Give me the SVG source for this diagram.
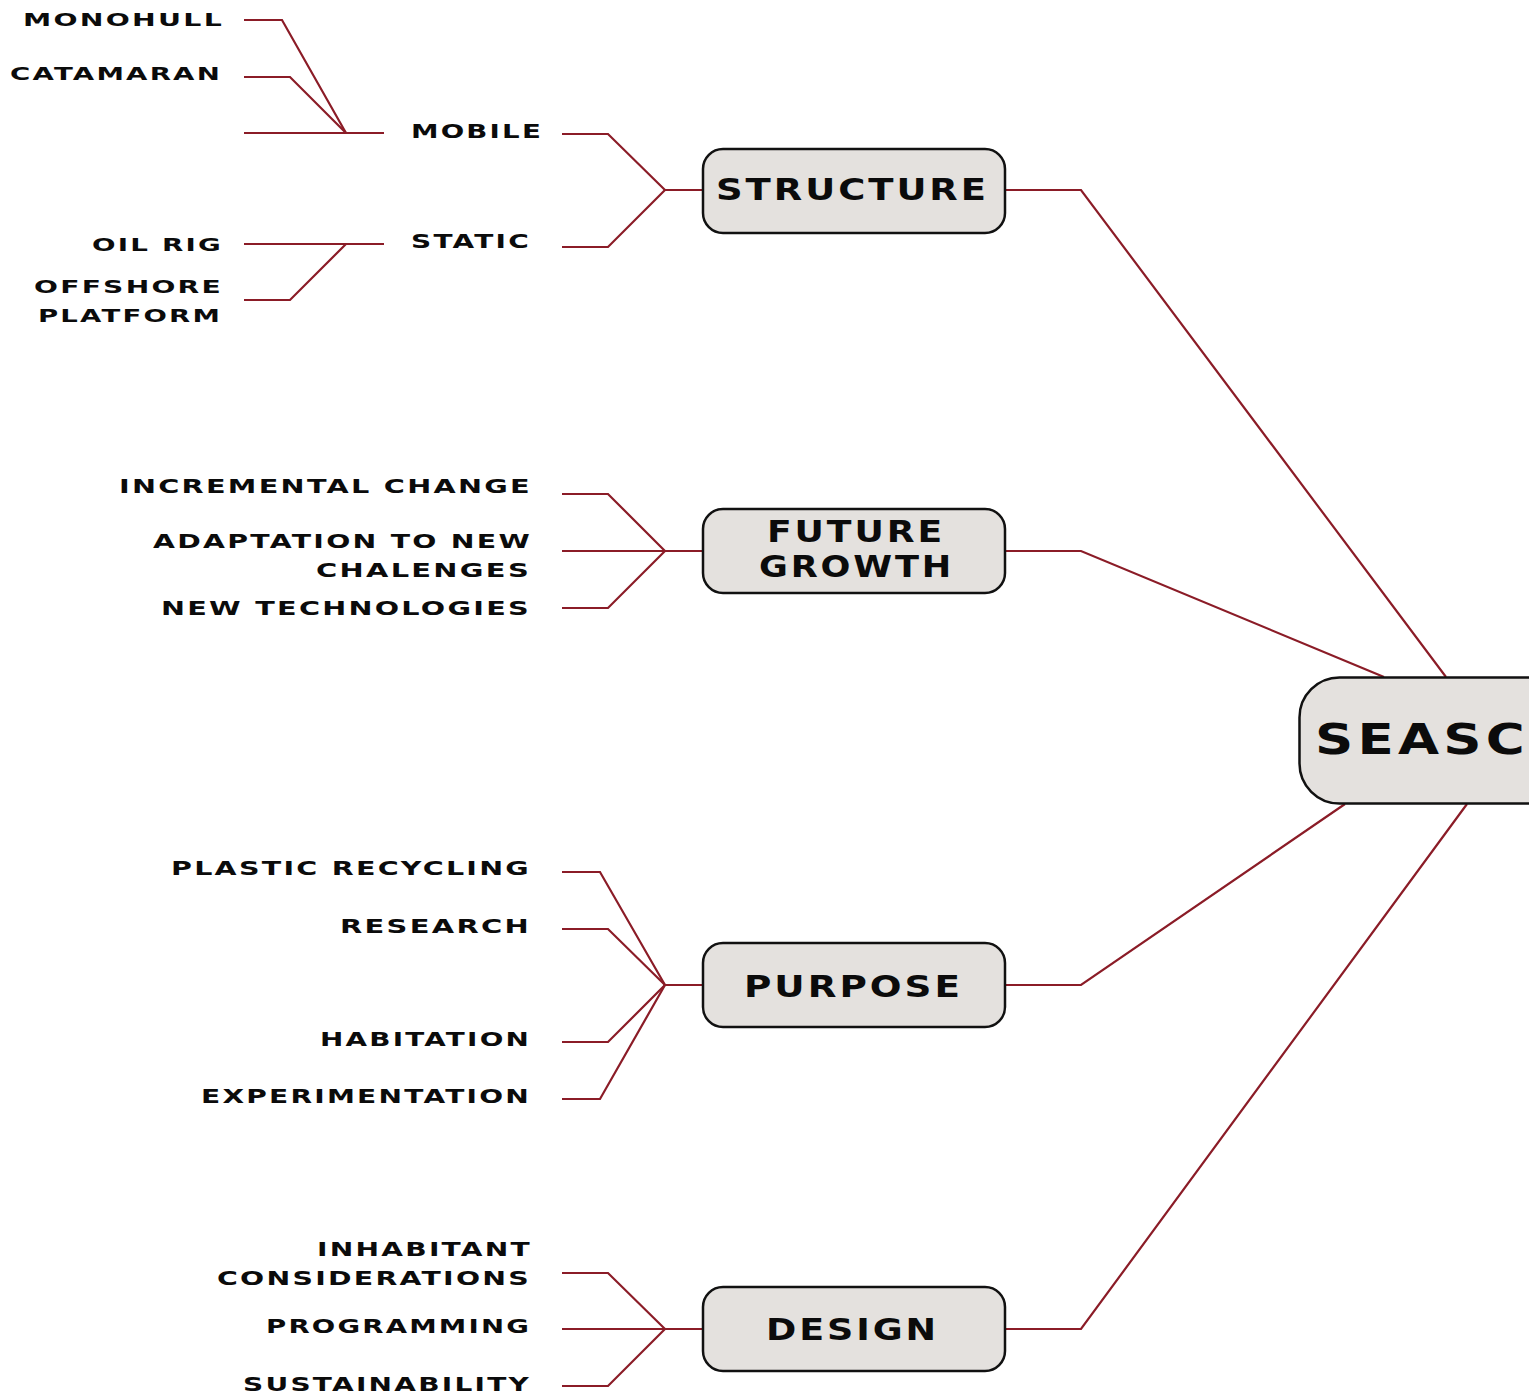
<svg xmlns="http://www.w3.org/2000/svg" width="1529" height="1397" viewBox="0 0 1529 1397">
  <style>
    .link { fill: none; stroke: #8b1c27; stroke-width: 2.2; stroke-linejoin: miter; }
    .box { fill: #e4e1de; stroke: #111; stroke-width: 2.5; }
    text { font-family: "DejaVu Sans", "Liberation Sans", sans-serif; font-weight: bold; fill: #0b0b0b; letter-spacing: 0.08em; }
    .l3 { font-size: 18px; }
    .l2 { font-size: 20px; }
    .l1 { font-size: 31px; }
    .root { font-size: 43px; }
  </style>
  <rect width="1529" height="1397" fill="#ffffff"/>

  <!-- connectors -->
  <g id="connectors">
    <!-- root to branches -->
    <polyline class="link" points="1446,677 1081,190 1005,190"/>
    <polyline class="link" points="1384,677 1081,551 1005,551"/>
    <polyline class="link" points="1345,804 1081,985 1005,985"/>
    <polyline class="link" points="1467,804 1081,1329 1005,1329"/>
    <!-- structure -->
    <polyline class="link" points="703,190 665,190"/>
    <polyline class="link" points="665,190 608,134 562,134"/>
    <polyline class="link" points="665,190 608,247 562,247"/>
    <!-- mobile -->
    <polyline class="link" points="384,133 244,133"/>
    <polyline class="link" points="346,133 282,20 244,20"/>
    <polyline class="link" points="346,133 290,77 244,77"/>
    <!-- static -->
    <polyline class="link" points="384,244 244,244"/>
    <polyline class="link" points="346,244 290,300 244,300"/>
    <!-- future growth -->
    <polyline class="link" points="703,551 562,551"/>
    <polyline class="link" points="665,551 608,494 562,494"/>
    <polyline class="link" points="665,551 608,608 562,608"/>
    <!-- purpose -->
    <polyline class="link" points="703,985 665,985"/>
    <polyline class="link" points="665,985 600,872 562,872"/>
    <polyline class="link" points="665,985 608,929 562,929"/>
    <polyline class="link" points="665,985 608,1042 562,1042"/>
    <polyline class="link" points="665,985 600,1099 562,1099"/>
    <!-- design -->
    <polyline class="link" points="703,1329 562,1329"/>
    <polyline class="link" points="665,1329 608,1273 562,1273"/>
    <polyline class="link" points="665,1329 608,1386 562,1386"/>
  </g>

  <!-- central node -->
  <g id="seasc">
    <rect class="box" x="1299.5" y="677.5" width="280" height="126" rx="40"/>
    <text class="root" x="1315" y="754" textLength="214" lengthAdjust="spacingAndGlyphs">SEASC</text>
  </g>

  <!-- main branches -->
  <g id="structure">
    <rect class="box" x="703" y="149" width="302" height="84" rx="20"/>
    <text class="l1" x="716" y="200" textLength="273" lengthAdjust="spacingAndGlyphs">STRUCTURE</text>
  </g>
  <g id="future-growth">
    <rect class="box" x="703" y="509" width="302" height="84" rx="20"/>
    <text class="l1" x="767" y="542" textLength="178" lengthAdjust="spacingAndGlyphs">FUTURE</text>
    <text class="l1" x="759" y="577" textLength="195" lengthAdjust="spacingAndGlyphs">GROWTH</text>
  </g>
  <g id="purpose">
    <rect class="box" x="703" y="943" width="302" height="84" rx="20"/>
    <text class="l1" x="744" y="997" textLength="219" lengthAdjust="spacingAndGlyphs">PURPOSE</text>
  </g>
  <g id="design">
    <rect class="box" x="703" y="1287" width="302" height="84" rx="20"/>
    <text class="l1" x="766" y="1340" textLength="173" lengthAdjust="spacingAndGlyphs">DESIGN</text>
  </g>

  <!-- structure leaves -->
  <g id="mobile"><text class="l2" x="411" y="138" textLength="132" lengthAdjust="spacingAndGlyphs">MOBILE</text></g>
  <g id="static"><text class="l2" x="411" y="248" textLength="120" lengthAdjust="spacingAndGlyphs">STATIC</text></g>
  <g id="monohull"><text class="l3" x="23" y="26" textLength="201" lengthAdjust="spacingAndGlyphs">MONOHULL</text></g>
  <g id="catamaran"><text class="l3" x="10" y="80" textLength="212" lengthAdjust="spacingAndGlyphs">CATAMARAN</text></g>
  <g id="oil-rig"><text class="l3" x="92" y="251" textLength="131" lengthAdjust="spacingAndGlyphs">OIL RIG</text></g>
  <g id="offshore-platform">
    <text class="l3" x="34" y="293" textLength="189" lengthAdjust="spacingAndGlyphs">OFFSHORE</text>
    <text class="l3" x="38" y="322" textLength="184" lengthAdjust="spacingAndGlyphs">PLATFORM</text>
  </g>

  <!-- future growth leaves -->
  <g id="incremental-change"><text class="l2" x="119" y="493" textLength="413" lengthAdjust="spacingAndGlyphs">INCREMENTAL CHANGE</text></g>
  <g id="adaptation">
    <text class="l2" x="153" y="548" textLength="379" lengthAdjust="spacingAndGlyphs">ADAPTATION TO NEW</text>
    <text class="l2" x="316" y="577" textLength="215" lengthAdjust="spacingAndGlyphs">CHALENGES</text>
  </g>
  <g id="new-technologies"><text class="l2" x="161" y="615" textLength="370" lengthAdjust="spacingAndGlyphs">NEW TECHNOLOGIES</text></g>

  <!-- purpose leaves -->
  <g id="plastic-recycling"><text class="l2" x="171" y="875" textLength="360" lengthAdjust="spacingAndGlyphs">PLASTIC RECYCLING</text></g>
  <g id="research"><text class="l2" x="340" y="933" textLength="191" lengthAdjust="spacingAndGlyphs">RESEARCH</text></g>
  <g id="habitation"><text class="l2" x="320" y="1046" textLength="211" lengthAdjust="spacingAndGlyphs">HABITATION</text></g>
  <g id="experimentation"><text class="l2" x="201" y="1103" textLength="330" lengthAdjust="spacingAndGlyphs">EXPERIMENTATION</text></g>

  <!-- design leaves -->
  <g id="inhabitant-considerations">
    <text class="l2" x="317" y="1256" textLength="215" lengthAdjust="spacingAndGlyphs">INHABITANT</text>
    <text class="l2" x="217" y="1285" textLength="314" lengthAdjust="spacingAndGlyphs">CONSIDERATIONS</text>
  </g>
  <g id="programming"><text class="l2" x="266" y="1333" textLength="265" lengthAdjust="spacingAndGlyphs">PROGRAMMING</text></g>
  <g id="sustainability"><text class="l2" x="243" y="1391" textLength="288" lengthAdjust="spacingAndGlyphs">SUSTAINABILITY</text></g>
</svg>
